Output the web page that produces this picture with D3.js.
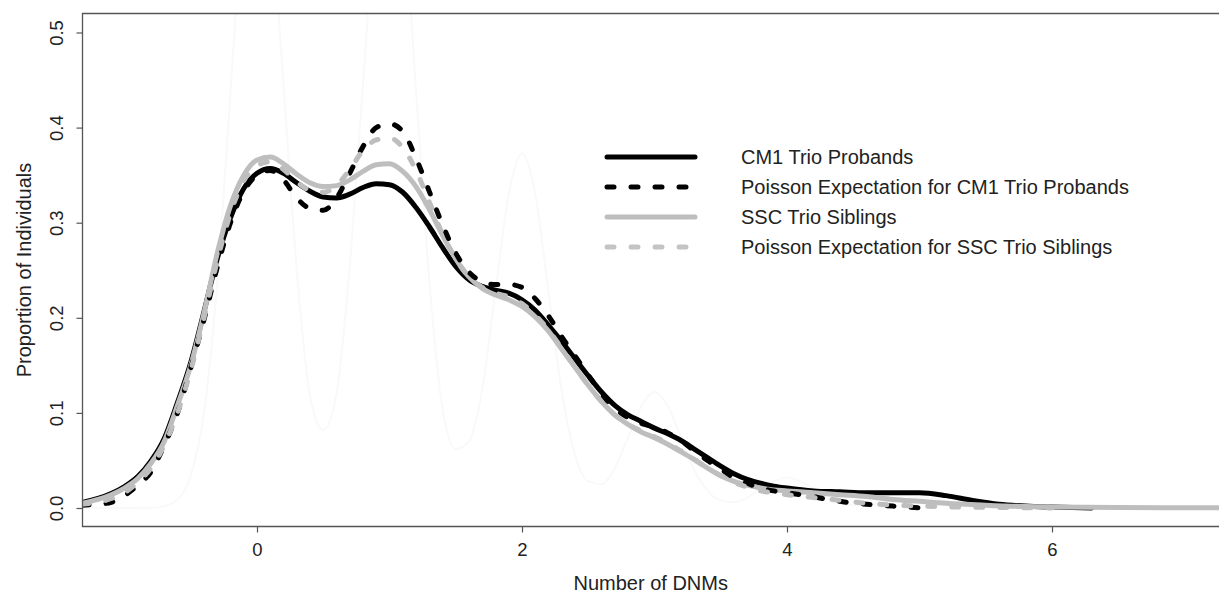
<!DOCTYPE html>
<html><head><meta charset="utf-8">
<script src="https://cdn.jsdelivr.net/npm/d3@7"></script>
<style>body{margin:0;background:#fff}svg{display:block}</style>
</head><body>
<svg id="c" width="1219" height="593"></svg>
<script>
// ---- data ----
const xTicks = [0, 2, 4, 6];
const yTicks = [0, 0.1, 0.2, 0.3, 0.4, 0.5];
const yTickLabels = ["0.0", "0.1", "0.2", "0.3", "0.4", "0.5"];
const seriesNames = ["CM1 Trio Probands", "Poisson Expectation for CM1 Trio Probands",
  "SSC Trio Siblings", "Poisson Expectation for SSC Trio Siblings"];

// faint background density
const faintX = [-1.32,-0.8,-0.7,-0.6,-0.5,-0.4,-0.3,-0.2,-0.1,0,0.1,0.2,0.3,0.4,0.5,0.6,0.7,0.8,0.9,1.0,1.1,1.2,1.3,1.4,1.5,1.6,1.7,1.8,1.9,2.0,2.1,2.2,2.3,2.4,2.5,2.6,2.7,2.8,2.9,3.0,3.1,3.2,3.3,3.4,3.5,3.6,3.7,3.8,3.9,4.0,4.1,4.2,4.3,4.4,4.5,4.6,4.7,4.8,4.9,5.0,5.1,5.2,5.3,5.4,5.5,5.7,7.3];
const faintY = [0,0.0003,0.002,0.009,0.034,0.1,0.236,0.437,0.635,0.72,0.637,0.445,0.25,0.118,0.082,0.12,0.255,0.445,0.637,0.72,0.637,0.44,0.24,0.105,0.062,0.07,0.125,0.228,0.33,0.373,0.33,0.227,0.123,0.056,0.028,0.025,0.042,0.074,0.107,0.122,0.107,0.074,0.04,0.018,0.008,0.006,0.011,0.02,0.028,0.032,0.028,0.02,0.011,0.005,0.003,0.003,0.005,0.008,0.01,0.011,0.01,0.007,0.004,0.002,0.0005,0,0];

// CM1 Trio Probands (black solid)
const cm1X = [-1.32,-1.2,-1.1,-1.0,-0.9,-0.8,-0.7,-0.6,-0.5,-0.4,-0.3,-0.2,-0.1,0,0.1,0.2,0.3,0.4,0.5,0.6,0.7,0.8,0.9,1.0,1.1,1.2,1.3,1.4,1.5,1.6,1.7,1.8,1.9,2.0,2.1,2.2,2.3,2.4,2.5,2.6,2.7,2.8,2.9,3.0,3.1,3.2,3.3,3.4,3.5,3.6,3.7,3.8,3.9,4.0,4.2,4.4,4.6,4.8,5.0,5.2,5.4,5.6,5.8,6.0,6.3];
const cm1Y = [0.0058,0.01,0.0152,0.0225,0.033,0.0495,0.073,0.111,0.153,0.2065,0.262,0.305,0.336,0.352,0.357,0.352,0.342,0.333,0.327,0.326,0.33,0.337,0.341,0.34,0.332,0.316,0.296,0.274,0.254,0.24,0.233,0.229,0.226,0.219,0.208,0.192,0.175,0.157,0.139,0.122,0.108,0.098,0.091,0.084,0.078,0.071,0.062,0.053,0.044,0.036,0.03,0.026,0.023,0.021,0.018,0.017,0.016,0.016,0.016,0.013,0.008,0.004,0.002,0.001,0.0];

// Poisson expectation for CM1 (black dashed)
const cm1PoisX = [-1.32,-1.2,-1.1,-1.0,-0.9,-0.8,-0.7,-0.6,-0.5,-0.4,-0.3,-0.2,-0.1,0,0.1,0.2,0.3,0.4,0.5,0.6,0.7,0.8,0.9,1.0,1.1,1.2,1.3,1.4,1.5,1.6,1.7,1.8,1.9,2.0,2.1,2.2,2.3,2.4,2.5,2.6,2.7,2.8,2.9,3.0,3.1,3.2,3.3,3.4,3.5,3.6,3.7,3.8,3.9,4.0,4.1,4.2,4.3,4.4,4.5,4.6,4.7,4.8,4.9,5.03];
const cm1PoisY = [0.003,0.004,0.006,0.013,0.024,0.038,0.066,0.1,0.147,0.198,0.253,0.3,0.333,0.35,0.355,0.345,0.326,0.315,0.313,0.326,0.352,0.38,0.4,0.404,0.396,0.368,0.333,0.298,0.268,0.248,0.238,0.235,0.235,0.232,0.22,0.202,0.18,0.16,0.14,0.12,0.105,0.095,0.089,0.085,0.079,0.071,0.06,0.05,0.041,0.032,0.026,0.021,0.018,0.016,0.014,0.012,0.009,0.007,0.005,0.004,0.003,0.002,0.001,0.0];

// SSC Trio Siblings (grey solid)
const sscX = [-1.32,-1.2,-1.1,-1.0,-0.9,-0.8,-0.7,-0.6,-0.5,-0.4,-0.3,-0.2,-0.1,0,0.1,0.2,0.3,0.4,0.5,0.6,0.7,0.8,0.9,1.0,1.1,1.2,1.3,1.4,1.5,1.6,1.7,1.8,1.9,2.0,2.1,2.2,2.3,2.4,2.5,2.6,2.7,2.8,2.9,3.0,3.1,3.2,3.3,3.4,3.5,3.6,3.7,3.8,3.9,4.0,4.2,4.4,4.6,4.8,5.0,5.2,5.5,5.8,6.0,6.5,7.3];
const sscY = [0.005,0.009,0.014,0.021,0.031,0.047,0.07,0.108,0.15,0.205,0.268,0.318,0.35,0.366,0.369,0.362,0.351,0.342,0.338,0.339,0.345,0.354,0.361,0.362,0.354,0.338,0.314,0.287,0.262,0.243,0.231,0.224,0.219,0.212,0.201,0.186,0.167,0.148,0.129,0.112,0.098,0.088,0.08,0.074,0.067,0.059,0.051,0.042,0.034,0.028,0.024,0.021,0.019,0.018,0.016,0.014,0.012,0.009,0.007,0.005,0.003,0.0015,0.001,0.0005,0.0003];

// Poisson expectation for SSC (grey dashed)
const sscPoisX = [-1.32,-1.2,-1.1,-1.0,-0.9,-0.8,-0.7,-0.6,-0.5,-0.4,-0.3,-0.2,-0.1,0,0.1,0.2,0.3,0.4,0.5,0.6,0.7,0.8,0.9,1.0,1.1,1.2,1.3,1.4,1.5,1.6,1.7,1.8,1.9,2.0,2.1,2.2,2.3,2.4,2.5,2.6,2.7,2.8,2.9,3.0,3.1,3.2,3.3,3.4,3.5,3.6,3.7,3.8,3.9,4.0,4.2,4.4,4.6,4.8,5.0,5.3,5.6,6.0];
const sscPoisY = [0.004,0.006,0.01,0.016,0.027,0.042,0.066,0.1,0.145,0.2,0.26,0.31,0.344,0.36,0.364,0.356,0.343,0.334,0.332,0.339,0.356,0.376,0.387,0.389,0.379,0.355,0.322,0.288,0.262,0.243,0.232,0.226,0.222,0.215,0.203,0.187,0.168,0.148,0.129,0.112,0.098,0.088,0.081,0.075,0.068,0.06,0.051,0.042,0.034,0.027,0.022,0.018,0.016,0.014,0.011,0.008,0.005,0.003,0.002,0.001,0.0005,0.0];

// ---- drawing ----
const svg = d3.select("#c");
const L = 82.5, T = 13.5, B = 526.5, R = 1219;
const x = d3.scaleLinear().domain([0, 6]).range([257, 1052]);
const y = d3.scaleLinear().domain([0, 0.5]).range([508, 32.5]);
const font = "'Liberation Sans', Arial, Helvetica, sans-serif";
const axisCol = "#555";
const textCol = "#222";

svg.append("defs").append("clipPath").attr("id", "clip")
  .append("rect").attr("x", L).attr("y", T).attr("width", R - L).attr("height", B - T);

const line = d3.line().x(d => x(d[0])).y(d => y(d[1])).curve(d3.curveMonotoneX);
const zip = (a, b) => a.map((v, i) => [v, b[i]]);

const g = svg.append("g").attr("clip-path", "url(#clip)");
const grey = "#bebebe";
const series = [
  {xs: faintX, ys: faintY, color: "#f9f9f9", w: 2, dash: null},
  {xs: cm1X, ys: cm1Y, color: "#000", w: 5, dash: null},
  {xs: sscX, ys: sscY, color: grey, w: 5, dash: null},
  {xs: cm1PoisX, ys: cm1PoisY, color: "#000", w: 5, dash: "7,17"},
  {xs: sscPoisX, ys: sscPoisY, color: grey, w: 5, dash: "7,17"}
];
series.forEach(s => {
  g.append("path").attr("d", line(zip(s.xs, s.ys)))
    .attr("fill", "none").attr("stroke", s.color).attr("stroke-width", s.w)
    .attr("stroke-linecap", "round").attr("stroke-linejoin", "round")
    .attr("stroke-dasharray", s.dash);
});

// box (left, top, bottom)
svg.append("path").attr("d", `M${R},${T}H${L}V${B}H${R}`)
  .attr("fill", "none").attr("stroke", axisCol).attr("stroke-width", 1.3);

// x axis
const xa = svg.append("g").attr("transform", `translate(0,${B})`)
  .call(d3.axisBottom(x).tickValues(xTicks).tickSize(6).tickPadding(10).tickFormat(d3.format("d")));
xa.select(".domain").remove();
xa.selectAll("line").attr("stroke", axisCol).attr("stroke-width", 1.2);
xa.selectAll("text").attr("font-family", font).attr("font-size", 18.5).attr("fill", textCol);

// y axis
const ya = svg.append("g").attr("transform", `translate(${L},0)`)
  .call(d3.axisLeft(y).tickValues(yTicks).tickSize(6).tickFormat((d, i) => yTickLabels[i]));
ya.select(".domain").remove();
ya.selectAll("line").attr("stroke", axisCol).attr("stroke-width", 1.2);
ya.selectAll("text").attr("font-family", font).attr("font-size", 18.5).attr("fill", textCol)
  .attr("x", null).attr("dy", null).attr("text-anchor", "middle")
  .attr("transform", "translate(-19.5,0) rotate(-90)");

// axis titles
svg.append("text").attr("x", (L + R) / 2).attr("y", 590).attr("text-anchor", "middle")
  .attr("font-family", font).attr("font-size", 20).attr("fill", textCol).text("Number of DNMs");
svg.append("text").attr("transform", `translate(31,${(T + B) / 2}) rotate(-90)`).attr("text-anchor", "middle")
  .attr("font-family", font).attr("font-size", 20).attr("fill", textCol).text("Proportion of Individuals");

// legend
const legRows = [157, 187, 217, 247];
const legStyle = [
  {color: "#000", dash: null}, {color: "#000", dash: "7,17"},
  {color: grey, dash: null}, {color: "#c4c4c4", dash: "7,17"}
];
seriesNames.forEach((name, i) => {
  svg.append("line").attr("x1", 607).attr("x2", 695).attr("y1", legRows[i]).attr("y2", legRows[i])
    .attr("stroke", legStyle[i].color).attr("stroke-width", 5).attr("stroke-linecap", "round")
    .attr("stroke-dasharray", legStyle[i].dash);
  svg.append("text").attr("x", 741).attr("y", legRows[i] + 7.3)
    .attr("font-family", font).attr("font-size", 20).attr("fill", textCol).text(name);
});
</script>
</body></html>
